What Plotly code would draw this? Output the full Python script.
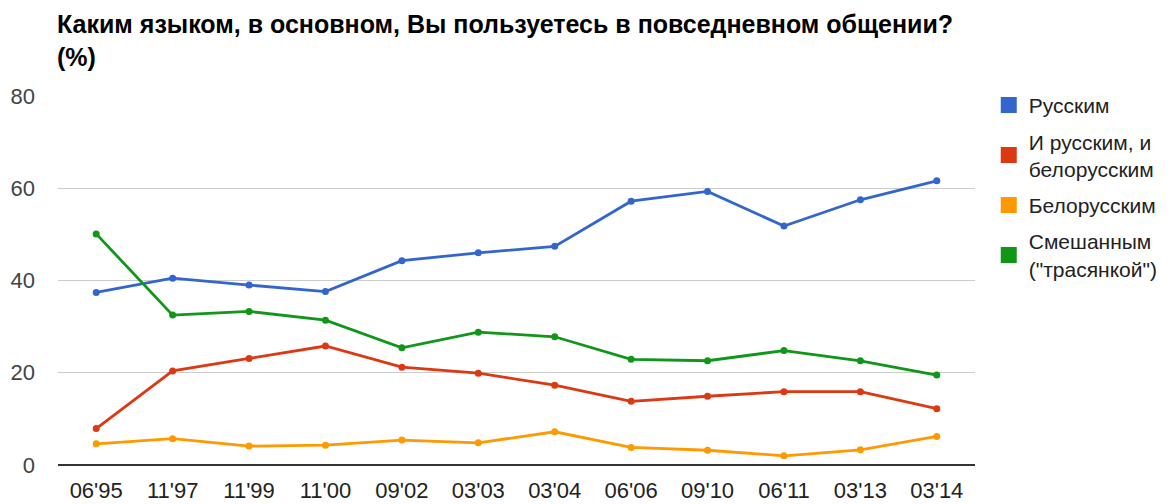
import plotly.graph_objects as go

# Survey waves (month'year)
waves = ["06'95", "11'97", "11'99", "11'00", "09'02", "03'03",
         "03'04", "06'06", "09'10", "06'11", "03'13", "03'14"]

russian = [37.4, 40.5, 39.0, 37.6, 44.3, 46.0, 47.4, 57.2, 59.3, 51.8, 57.5, 61.6]
both = [7.9, 20.4, 23.1, 25.8, 21.2, 19.9, 17.3, 13.8, 14.9, 15.9, 15.9, 12.2]
belarusian = [4.6, 5.7, 4.1, 4.3, 5.4, 4.8, 7.2, 3.8, 3.2, 2.0, 3.3, 6.2]
mixed = [50.1, 32.5, 33.3, 31.4, 25.4, 28.8, 27.8, 22.9, 22.6, 24.8, 22.6, 19.5]

y_ticks = [0, 20, 40, 60, 80]

SERIES = [
    ("Русским", russian, "#3366cc"),
    ("И русским, и<br>белорусским", both, "#dc3912"),
    ("Белорусским", belarusian, "#ff9900"),
    ("Смешанным<br>(\"трасянкой\")", mixed, "#109618"),
]

FONT = "Liberation Sans, Arial, sans-serif"

# page body has an 8px margin, so the figure is drawn 8px smaller
W, H = 1166, 496

fig = go.Figure()

for name, values, color in SERIES:
    fig.add_trace(go.Scatter(
        x=waves, y=values, mode="lines+markers",
        line=dict(color=color, width=2.8),
        marker=dict(color=color, size=7),
        showlegend=False, hoverinfo="x+y",
    ))

# square legend swatches
for i, (name, values, color) in enumerate(SERIES):
    fig.add_trace(go.Scatter(
        x=[None], y=[None], mode="markers", name=name,
        legendgroup=f"g{i}",
        marker=dict(color=color, size=16, symbol="square"),
    ))

fig.update_layout(
    width=W, height=H,
    paper_bgcolor="white", plot_bgcolor="white",
    margin=dict(l=50, r=199, t=88, b=39, autoexpand=False),
    font=dict(family=FONT, size=22, color="#444444"),
    title=dict(
        text="Каким языком, в основном, Вы пользуетесь в повседневном общении?<br>(%)",
        font=dict(family=FONT, size=25, color="#000000", weight="bold"),
        xref="container", x=49 / W, xanchor="left",
        yref="container", y=1 - 25 / H, yanchor="top",
    ),
    legend=dict(
        x=1.015, xanchor="left", y=1.03, yanchor="top",
        font=dict(family=FONT, size=21, color="#222222"),
        itemwidth=30, tracegroupgap=6,
        bgcolor="rgba(0,0,0,0)",
    ),
)

fig.update_xaxes(
    type="category", range=[-0.5, len(waves) - 0.5],
    showgrid=False, showline=False, zeroline=False, automargin=False,
    ticks="", ticklabelstandoff=10, tickfont=dict(size=22, color="#222222"),
)
fig.update_yaxes(
    range=[0, 80], tickvals=y_ticks, automargin=False,
    showgrid=True, gridcolor="#cccccc", gridwidth=1.3,
    zeroline=True, zerolinecolor="#333333", zerolinewidth=1.5,
    showline=False, ticks="", ticklabelstandoff=22,
    tickfont=dict(size=22, color="#444444"),
)

fig.write_html("out.html")
